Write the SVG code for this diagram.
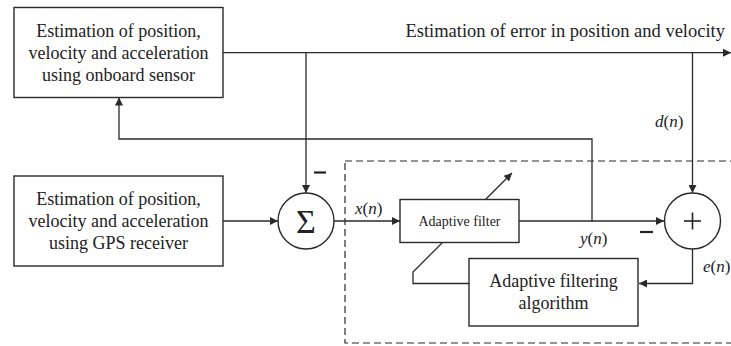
<svg xmlns="http://www.w3.org/2000/svg" width="731" height="346" viewBox="0 0 731 346">
<defs>
<marker id="ah" viewBox="0 0 10 10" refX="10" refY="5" markerWidth="11" markerHeight="8" markerUnits="userSpaceOnUse" orient="auto"><path d="M0,0 L10,5 L0,10 Z" fill="#2a2a2a"/></marker>
</defs>
<style>
.b{fill:#fff;stroke:#2a2a2a;stroke-width:1.4}
.l{fill:none;stroke:#2a2a2a;stroke-width:1.3}
text{font-family:"Liberation Serif","DejaVu Serif","Times New Roman",serif;fill:#222}
.t{font-size:18px;text-anchor:middle}
.i{font-size:17px;font-style:italic}
.n{font-style:normal}
.m{stroke:#222;stroke-width:2.2}
.p{stroke:#222;stroke-width:1.6}
</style>
<rect x="345" y="161" width="400" height="182" fill="none" stroke="#2a2a2a" stroke-width="1.2" stroke-dasharray="7,4"/>
<g id="connectors">
<path class="l" d="M223,52.7 H731" marker-end="url(#ah)"/>
<path class="l" d="M306,52.7 V193" marker-end="url(#ah)"/>
<path class="l" d="M692.5,52.7 V193" marker-end="url(#ah)"/>
<path class="l" d="M592,221 V139 H119 V97.5" marker-end="url(#ah)"/>
<path class="l" d="M223,221 H278" marker-end="url(#ah)"/>
<path class="l" d="M334,221 H400" marker-end="url(#ah)"/>
<path class="l" d="M519,221 H664" marker-end="url(#ah)"/>
<path class="l" d="M692.5,249 V283.5 H639" marker-end="url(#ah)"/>
<path class="l" d="M469,283.5 H413 V272 L512,173" marker-end="url(#ah)"/>
</g>
<g id="onboard">
<rect class="b" x="14" y="7.5" width="209" height="90"/>
<text class="t" x="118.5" y="37">Estimation of position,</text>
<text class="t" x="118.5" y="59">velocity and acceleration</text>
<text class="t" x="118.5" y="81">using onboard sensor</text>
</g>
<g id="gps">
<rect class="b" x="14" y="176" width="209" height="90"/>
<text class="t" x="118.5" y="205">Estimation of position,</text>
<text class="t" x="118.5" y="227">velocity and acceleration</text>
<text class="t" x="118.5" y="249">using GPS receiver</text>
</g>
<g id="sum">
<circle class="b" cx="306" cy="221" r="28"/>
<text x="306" y="233" font-size="34" text-anchor="middle">Σ</text>
</g>
<g id="filter">
<rect class="b" x="400" y="199.5" width="119" height="43"/>
<text x="459.5" y="226" font-size="14" text-anchor="middle">Adaptive filter</text>
</g>
<g id="plus">
<circle class="b" cx="692.5" cy="221" r="28"/>
<line class="p" x1="684" y1="221" x2="701" y2="221"/>
<line class="p" x1="692.5" y1="212.5" x2="692.5" y2="229.5"/>
</g>
<g id="algorithm">
<rect class="b" x="469" y="258.5" width="169" height="67.5"/>
<text class="t" x="553.5" y="287">Adaptive filtering</text>
<text class="t" x="553.5" y="309">algorithm</text>
</g>
<g id="labels">
<text x="725" y="37" font-size="18.5" text-anchor="end">Estimation of error in position and velocity</text>
<text class="i" x="655" y="127">d<tspan class="n">(</tspan>n<tspan class="n">)</tspan></text>
<text class="i" x="355" y="214">x<tspan class="n">(</tspan>n<tspan class="n">)</tspan></text>
<text class="i" x="580" y="244">y<tspan class="n">(</tspan>n<tspan class="n">)</tspan></text>
<text class="i" x="703" y="272">e<tspan class="n">(</tspan>n<tspan class="n">)</tspan></text>
<line class="m" x1="314" y1="172.5" x2="326" y2="172.5"/>
<line class="m" x1="640" y1="232" x2="653" y2="232"/>
</g>
</svg>
